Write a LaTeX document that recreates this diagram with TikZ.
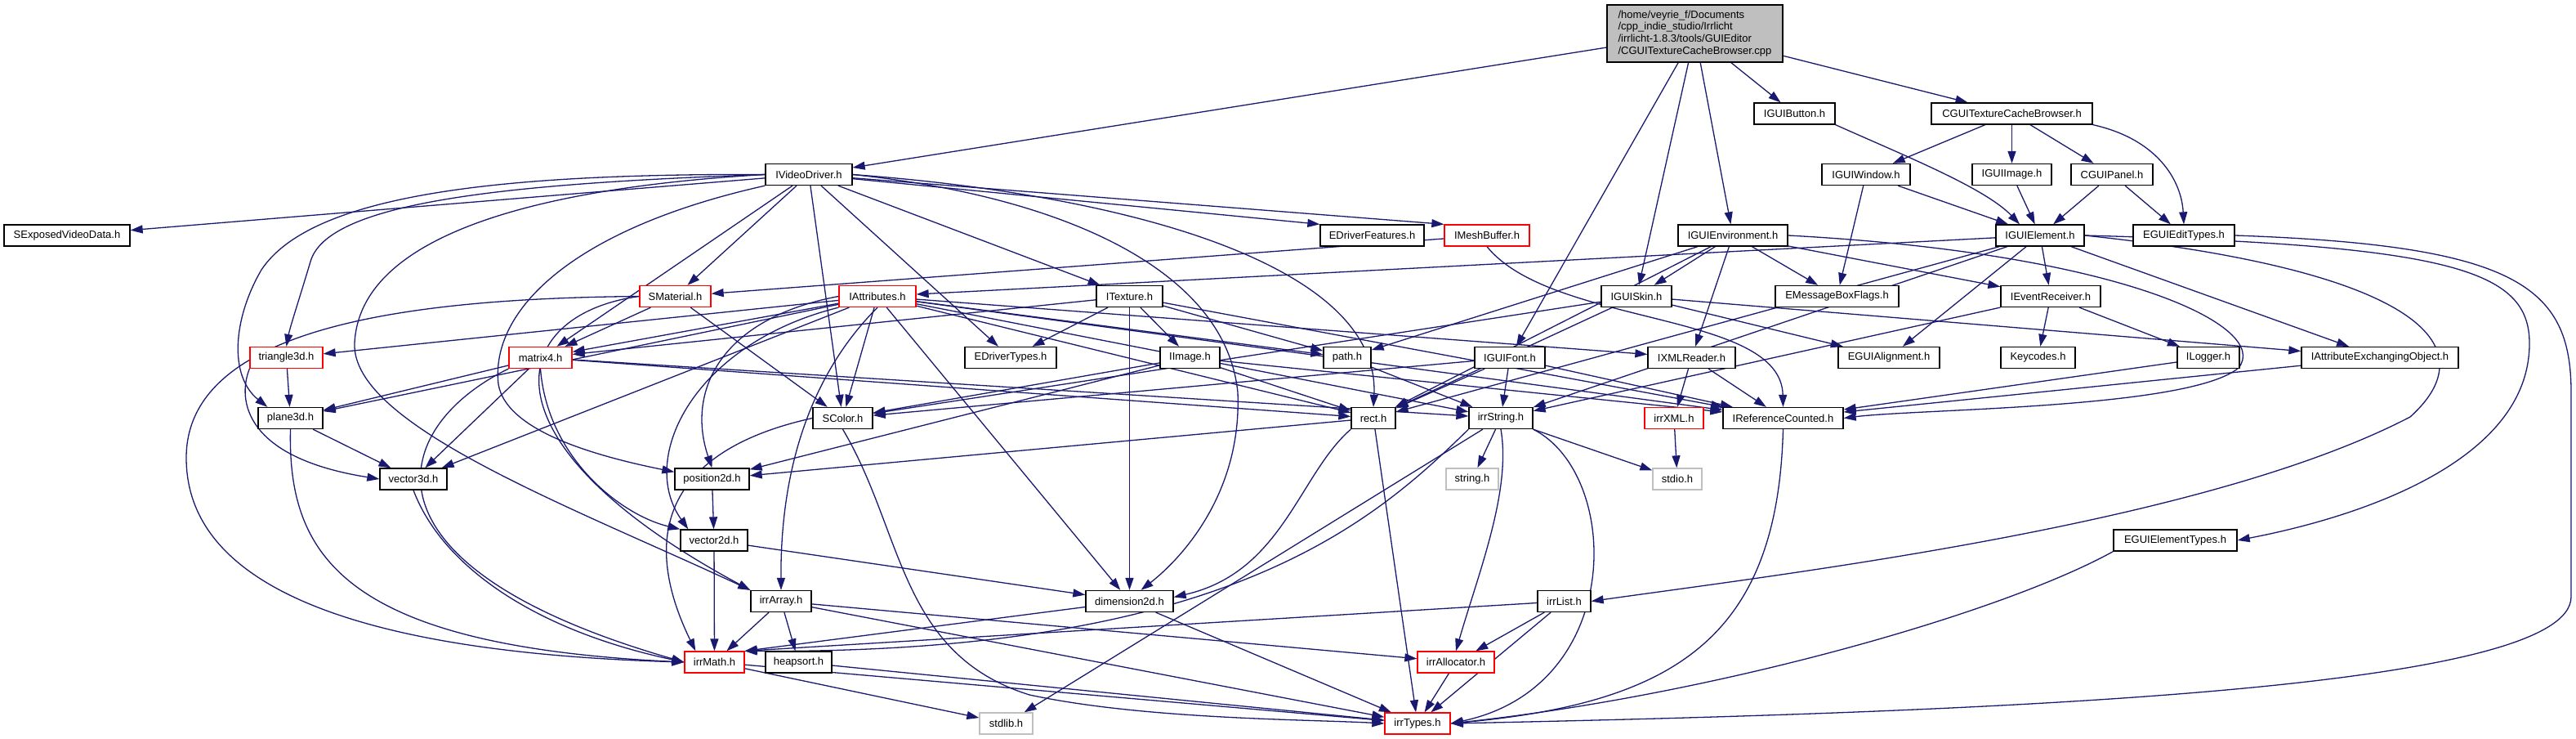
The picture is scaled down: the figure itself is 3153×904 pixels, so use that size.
\documentclass[tikz,border=0pt]{standalone}
\usepackage{fontspec}
\setmainfont{Liberation Sans}
\usepackage{xcolor}
\usepackage{tikz}
\usetikzlibrary{arrows.meta,backgrounds}
\definecolor{depBlue}{RGB}{25,25,112}
\definecolor{cutRed}{RGB}{255,0,0}
\definecolor{sysGray}{RGB}{191,191,191}

\tikzset{
  file/.style={draw=black, fill=white, line width=1.3pt, minimum height=26pt,
    inner sep=0pt, font=\fontsize{13}{14.8}\selectfont},
  cutfile/.style={file, draw=cutRed},
  sysfile/.style={file, draw=sysGray},
  rootfile/.style={file, fill=sysGray, align=left, minimum height=70pt},
  dep/.style={draw=depBlue, line width=1.3pt, -{Triangle[length=15pt,width=10pt]}}
}

\begin{document}
\begin{tikzpicture}[x=1pt, y=-1pt]
\useasboundingbox (0,0) rectangle (3153,904);

\node[rootfile, minimum width=215pt] (root) at (2074.5,41)
  {/home/veyrie\_f/Documents\\/cpp\_indie\_studio/Irrlicht\\/irrlicht-1.8.3/tools/GUIEditor\\/CGUITextureCacheBrowser.cpp};

% complete headers
\foreach \nm/\cx/\cy/\bw/\txt in {
  guibutton/2196.5/139/99/IGUIButton.h,
  texbrowser/2462.5/139/197/CGUITextureCacheBrowser.h,
  vdriver/990/213.5/106/IVideoDriver.h,
  guiwindow/2284/213.5/108/IGUIWindow.h,
  guiimage/2462.5/213.5/97/IGUIImage.h,
  guipanel/2585/213.5/100/CGUIPanel.h,
  exposed/82/288/154/SExposedVideoData.h,
  drvfeat/1679.5/288/127/EDriverFeatures.h,
  guienv/2121/288/134/IGUIEnvironment.h,
  guielem/2497/288/108/IGUIElement.h,
  edittypes/2673/288/124/EGUIEditTypes.h,
  itexture/1382.5/362.5/81/ITexture.h,
  guiskin/2003/362.5/86/IGUISkin.h,
  msgbox/2248.5/362.5/151/EMessageBoxFlags.h,
  evrecv/2510/362.5/122/IEventReceiver.h,
  drvtypes/1237/437.5/112/EDriverTypes.h,
  iimage/1456.5/437.5/73/IImage.h,
  pathh/1649/437.5/58/path.h,
  guifont/1848/437.5/86/IGUIFont.h,
  xmlreader/2070.5/437.5/107/IXMLReader.h,
  guialign/2312/437.5/124/EGUIAlignment.h,
  keycodes/2494.5/437.5/91/Keycodes.h,
  ilogger/2703/437.5/76/ILogger.h,
  attrexch/2913/437.5/192/IAttributeExchangingObject.h,
  plane3d/355.5/511.5/79/plane3d.h,
  scolor/1031.5/511.5/73/SColor.h,
  rect/1681/511.5/54/rect.h,
  irrstring/1837/511.5/78/irrString.h,
  refcount/2182.5/511.5/147/IReferenceCounted.h,
  vector3d/506/586/82/vector3d.h,
  pos2d/871.5/586/91/position2d.h,
  vector2d/874/661/82/vector2d.h,
  elemtypes/2662.5/661/151/EGUIElementTypes.h,
  irrarray/956/735.5/74/irrArray.h,
  dim2d/1382.5/735.5/107/dimension2d.h,
  irrlist/1914.5/735.5/65/irrList.h,
  heapsort/977.5/810/81/heapsort.h}
{
  \node[file, minimum width=\bw pt] (\nm) at (\cx,\cy) {\txt};
}

% truncated headers
\foreach \nm/\cx/\cy/\bw/\txt in {
  meshbuf/1820/288/104/IMeshBuffer.h,
  smaterial/826.5/362.5/87/SMaterial.h,
  iattr/1074/362.5/94/IAttributes.h,
  tri3d/350.5/437.5/89/triangle3d.h,
  matrix4/661.5/437.5/77/matrix4.h,
  irrxml/2049/511.5/72/irrXML.h,
  irrmath/874.5/810/73/irrMath.h,
  irralloc/1782/810/94/irrAllocator.h,
  irrtypes/1735/885/80/irrTypes.h}
{
  \node[cutfile, minimum width=\bw pt] (\nm) at (\cx,\cy) {\txt};
}

% system headers
\foreach \nm/\cx/\cy/\bw/\txt in {
  stringh/1802/586/64/string.h,
  stdioh/2053/586/60/stdio.h,
  stdlibh/1231.5/885/65/stdlib.h}
{
  \node[sysfile, minimum width=\bw pt] (\nm) at (\cx,\cy) {\txt};
}

\begin{scope}[on background layer]
% straight includes
\foreach \a/\b in {
  root/vdriver, root/guifont, root/guiskin, root/guienv, root/guibutton, root/texbrowser,
  texbrowser/guiwindow, texbrowser/guiimage, texbrowser/guipanel,
  guiwindow/guielem, guiwindow/msgbox, guiimage/guielem, guipanel/guielem, guipanel/edittypes,
  vdriver/exposed, vdriver/drvfeat.north west, vdriver/meshbuf.north west, vdriver/smaterial,
  vdriver/matrix4, vdriver/scolor, vdriver/drvtypes, vdriver/itexture,
  meshbuf/smaterial,
  guienv/guiskin, guienv/pathh, guienv/xmlreader, guienv/msgbox, guienv/evrecv, guienv/rect,
  guielem/iattr, guielem/guialign, guielem/evrecv, guielem/attrexch, guielem/rect, guielem/irrstring,
  smaterial/scolor, smaterial/matrix4,
  iattr/matrix4, iattr/tri3d, iattr/plane3d, iattr/vector3d, iattr/scolor, iattr/dim2d,
  iattr/rect, iattr/irrstring, iattr/xmlreader, iattr/pathh, iattr/refcount,
  itexture/matrix4, itexture/drvtypes, itexture/iimage, itexture/pathh, itexture/dim2d, itexture/refcount,
  guiskin/attrexch, guiskin/guialign, guiskin/scolor, guiskin/rect,
  evrecv/keycodes, evrecv/ilogger, evrecv/irrstring,
  tri3d/plane3d,
  matrix4/plane3d, matrix4/vector3d, matrix4/rect, matrix4/irrstring,
  iimage/scolor, iimage/pos2d, iimage/rect, iimage/refcount,
  pathh/irrstring,
  guifont/rect, guifont/irrstring, guifont/scolor, guifont/refcount,
  xmlreader/irrxml, xmlreader/refcount,
  ilogger/refcount, attrexch/refcount,
  plane3d/vector3d,
  rect/pos2d, rect/irrtypes,
  irrstring/stringh, irrstring/stdioh, irrstring/stdlibh,
  irrxml/stdioh,
  pos2d/vector2d,
  vector2d/irrmath, vector2d/dim2d,
  irrarray/irrmath, irrarray/heapsort, irrarray/irralloc, irrarray/irrtypes,
  dim2d/irrmath.north east, dim2d/irrtypes,
  irrlist/irralloc, irrlist/irrtypes, irrlist/irrmath.north east,
  irrmath/stdlibh, irrmath/irrtypes, heapsort/irrtypes, irralloc/irrtypes}
{
  \draw[dep] (\a) -- (\b);
}

% routed includes
\draw[dep] (texbrowser.south east) .. controls (2640,170) and (2670,220) .. (edittypes.north);
\draw[dep] (guibutton.south east) .. controls (2330,190) and (2430,230) .. ([xshift=-25pt]guielem.north);
\draw[dep] (vdriver.west) .. controls (600,212) and (380,240) .. (320,330)
  .. controls (285,390) and (280,460) .. ([xshift=12pt]plane3d.north west);
\draw[dep] (vdriver.west) .. controls (600,225) and (400,250) .. (380,320)
  .. controls (365,370) and (355,400) .. (tri3d.north);
\draw[dep] (vdriver.west) .. controls (650,230) and (440,290) .. (434,420)
  .. controls (430,520) and (700,620) .. (irrarray.north west);
\draw[dep] (vdriver.south west) .. controls (700,280) and (600,380) .. (610,470)
  .. controls (620,530) and (740,560) .. ([yshift=-5pt]pos2d.north west);
\draw[dep] (vdriver.east) .. controls (1300,240) and (1500,330) .. (1515,480)
  .. controls (1520,600) and (1450,680) .. ([xshift=14pt]dim2d.north);
\draw[dep] (vdriver.east) .. controls (1400,240) and (1690,330) .. (rect.north);
\draw[dep] (smaterial.west) .. controls (500,365) and (228,400) .. (228,560)
  .. controls (228,740) and (500,800) .. (irrmath.west);
\draw[dep] (smaterial.west) .. controls (620,385) and (580,540) .. (irrarray.north west);
\draw[dep] (iattr.south) .. controls (1000,450) and (955,560) .. (irrarray.north);
\draw[dep] (iattr.west) .. controls (880,390) and (840,480) .. (pos2d.north);
\draw[dep] (iattr.south west) .. controls (850,420) and (780,560) .. ([xshift=10pt]vector2d.north west);
\draw[dep] (matrix4.south) .. controls (670,560) and (760,630) .. (vector2d.north west);
\draw[dep] (tri3d.south west) .. controls (290,490) and (300,560) .. (vector3d.west);
\draw[dep] (plane3d.south) .. controls (352,680) and (420,790) .. (irrmath.west);
\draw[dep] (vector3d.south) .. controls (540,690) and (650,770) .. (irrmath.west);
\draw[dep] (matrix4.south west) .. controls (480,520) and (420,690) .. (irrmath.west);
\draw[dep] (scolor.west) .. controls (820,550) and (780,650) .. ([xshift=14pt]irrmath.north west);
\draw[dep] (scolor.south) .. controls (1106,650) and (1100,800) .. (1260,850)
  .. controls (1400,880) and (1600,880) .. (irrtypes.west);
\draw[dep] (rect.south west) .. controls (1590,580) and (1570,700) .. ([yshift=5pt]dim2d.east);
\draw[dep] (irrstring.south west) .. controls (1680,640) and (1500,800) .. (irrmath.north east);
\draw[dep] (irrstring.south) .. controls (1850,600) and (1810,700) .. (irralloc.north);
\draw[dep] (irrstring.south east) .. controls (1985,580) and (1990,840) .. (irrtypes.east);
\draw[dep] (refcount.south) .. controls (2176,780) and (2050,860) .. (irrtypes.east);
\draw[dep] (meshbuf.south) .. controls (1900,400) and (2180,380) .. (refcount.north);
\draw[dep] (guienv.east) .. controls (2600,310) and (2780,400) .. (2740,450)
  .. controls (2680,500) and (2350,500) .. (refcount.east);
\draw[dep] (guielem.east) .. controls (3000,300) and (3096,330) .. (3096,420)
  .. controls (3096,560) and (2900,630) .. (elemtypes.east);
\draw[dep] (guielem.east) .. controls (2950,330) and (3050,420) .. (2950,510)
  .. controls (2700,640) and (2200,700) .. (irrlist.east);
\draw[dep] (elemtypes.south west) .. controls (2450,750) and (2100,850) .. (irrtypes.east);
\draw[dep] (edittypes.east) .. controls (3080,300) and (3147,350) .. (3147,480)
  -- (3147,730) .. controls (3147,840) and (2500,870) .. (irrtypes.east);
\end{scope}
\end{tikzpicture}
\end{document}
